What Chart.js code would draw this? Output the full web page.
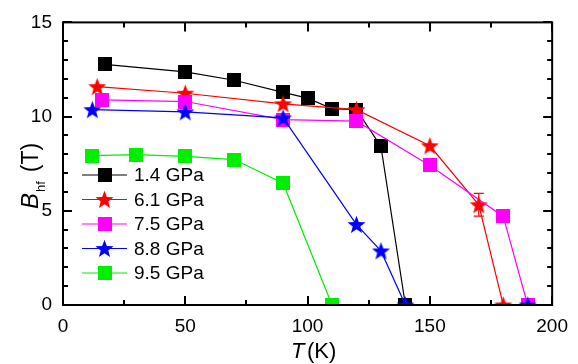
<!DOCTYPE html>
<html><head><meta charset="utf-8">
<script src="https://cdn.jsdelivr.net/npm/chart.js@4/dist/chart.umd.min.js"></script>
<style>html,body{margin:0;padding:0;background:#fff}canvas{display:block}</style>
</head><body>
<canvas id="c" width="578" height="364"></canvas>
<script>
// ---- data ----
const seriesLabels = ['1.4 GPa', '6.1 GPa', '7.5 GPa', '8.8 GPa', '9.5 GPa'];
const tempBlack = [17, 50, 70, 90, 100, 110, 120, 130, 140];
const bBlack    = [12.77, 12.37, 11.93, 11.29, 10.98, 10.42, 10.37, 8.42, 0];
const tempRed   = [14, 50, 90, 120, 150, 170, 180];
const bRed      = [11.59, 11.24, 10.68, 10.37, 8.45, 5.32, 0];
const errRed    = [0, 0, 0, 0, 0, 0.6, 0];
const tempMagenta = [16, 50, 90, 120, 150, 180, 190];
const bMagenta    = [10.89, 10.8, 9.84, 9.76, 7.41, 4.7, 0];
const tempBlue  = [12, 50, 90, 120, 130, 140, 190];
const bBlue     = [10.37, 10.25, 9.93, 4.27, 2.87, 0, 0];
const tempGreen = [12, 30, 50, 70, 90, 110];
const bGreen    = [7.93, 7.98, 7.89, 7.72, 6.46, 0];
const xTicks = [0, 50, 100, 150, 200];
const yTicks = [0, 5, 10, 15];

const FONT = '"Liberation Sans", Arial, Helvetica, sans-serif';

function makeSquare(color, side) {
  const c = document.createElement('canvas');
  c.width = side; c.height = side;
  const g = c.getContext('2d');
  g.fillStyle = color; g.fillRect(0, 0, side, side);
  return c;
}
function makeStar(color, R) {
  const s = Math.ceil(R * 2 + 2);
  const c = document.createElement('canvas');
  c.width = s; c.height = s;
  const g = c.getContext('2d');
  const cx = s / 2, cy = s / 2 + R * 0.08, r = R * 0.42;
  g.beginPath();
  for (let i = 0; i < 10; i++) {
    const rad = i % 2 === 0 ? R : r;
    const a = -Math.PI / 2 + i * Math.PI / 5;
    const px = cx + rad * Math.cos(a), py = cy + rad * Math.sin(a);
    i === 0 ? g.moveTo(px, py) : g.lineTo(px, py);
  }
  g.closePath();
  g.fillStyle = color; g.fill();
  return c;
}

const colors = ['#000000', '#ff0000', '#ff00ff', '#0000ff', '#00ee00'];
const markers = [
  makeSquare('#000000', 14),
  makeStar('#ff0000', 9.5),
  makeSquare('#ff00ff', 14),
  makeStar('#0000ff', 9.5),
  makeSquare('#00ee00', 14)
];
const xs = [tempBlack, tempRed, tempMagenta, tempBlue, tempGreen];
const ys = [bBlack, bRed, bMagenta, bBlue, bGreen];

const datasets = seriesLabels.map((lab, i) => ({
  label: lab,
  data: xs[i].map((t, k) => ({x: t, y: ys[i][k]})),
  showLine: true,
  borderColor: colors[i],
  backgroundColor: colors[i],
  borderWidth: 1.2,
  pointStyle: markers[i],
  pointRadius: 7,
  pointHoverRadius: 7,
  order: 10 - i
}));

const decor = {
  id: 'decor',
  afterDatasetsDraw(chart) {
    const ctx = chart.ctx, x = chart.scales.x, y = chart.scales.y;
    ctx.save();
    ctx.strokeStyle = colors[1];
    ctx.lineWidth = 1.2;
    tempRed.forEach((t, k) => {
      const e = errRed[k];
      if (!e) return;
      const px = x.getPixelForValue(t);
      const y1 = y.getPixelForValue(bRed[k] + e), y2 = y.getPixelForValue(bRed[k] - e);
      ctx.beginPath();
      ctx.moveTo(px, y1); ctx.lineTo(px, y2);
      ctx.moveTo(px - 5, y1); ctx.lineTo(px + 5, y1);
      ctx.moveTo(px - 5, y2); ctx.lineTo(px + 5, y2);
      ctx.stroke();
    });
    ctx.restore();
  },
  afterDraw(chart) {
    const ctx = chart.ctx, a = chart.chartArea, x = chart.scales.x, y = chart.scales.y;
    ctx.save();
    ctx.strokeStyle = '#000';
    ctx.lineWidth = 2;
    ctx.strokeRect(a.left, a.top, a.right - a.left, a.bottom - a.top);
    // inward ticks on all four sides
    ctx.beginPath();
    for (let v = 0; v <= 200; v += 25) {
      const px = Math.round(x.getPixelForValue(v));
      const L = v % 50 === 0 ? 9 : 5;
      ctx.moveTo(px, a.bottom); ctx.lineTo(px, a.bottom - L);
      ctx.moveTo(px, a.top); ctx.lineTo(px, a.top + L);
    }
    for (let v = 0; v <= 15; v += 1) {
      const py = Math.round(y.getPixelForValue(v));
      const L = v % 5 === 0 ? 9 : 5;
      ctx.moveTo(a.left, py); ctx.lineTo(a.left + L, py);
      ctx.moveTo(a.right, py); ctx.lineTo(a.right - L, py);
    }
    ctx.stroke();

    // axis titles
    ctx.fillStyle = '#000';
    ctx.textBaseline = 'alphabetic';
    ctx.textAlign = 'left';
    // x title: T (K)
    ctx.font = 'italic 22px ' + FONT;
    ctx.fillText('T', 291, 358);
    ctx.font = '22px ' + FONT;
    ctx.fillText('(K)', 307, 358);
    // y title: B_hf (T), rotated
    ctx.save();
    ctx.translate(38, 209);
    ctx.rotate(-Math.PI / 2);
    ctx.font = 'italic 24px ' + FONT;
    ctx.fillText('B', 0, 0);
    let w = ctx.measureText('B').width;
    ctx.font = '13px ' + FONT;
    ctx.fillText('hf', w + 1, 7);
    w += 1 + ctx.measureText('hf').width;
    ctx.font = '23px ' + FONT;
    ctx.fillText('(T)', w + 9, 0);
    ctx.restore();

    // legend
    ctx.font = '19px ' + FONT;
    ctx.textBaseline = 'middle';
    seriesLabels.forEach((lab, i) => {
      const cy = 175 + i * 24.5;
      ctx.strokeStyle = colors[i];
      ctx.lineWidth = 1.2;
      ctx.beginPath();
      ctx.moveTo(82, cy); ctx.lineTo(127, cy);
      ctx.stroke();
      const m = markers[i];
      ctx.drawImage(m, Math.round(104.5 - m.width / 2), Math.round(cy - m.height / 2));
      ctx.fillStyle = '#000';
      ctx.fillText(lab, 134, cy + 1);
    });
    ctx.restore();
  }
};

new Chart(document.getElementById('c'), {
  type: 'scatter',
  data: {datasets},
  options: {
    responsive: false,
    animation: false,
    events: [],
    layout: {padding: {top: 18, right: 23, left: 0, bottom: 0}},
    plugins: {legend: {display: false}, tooltip: {enabled: false}, title: {display: false}},
    scales: {
      x: {
        type: 'linear', min: 0, max: 200,
        afterBuildTicks: s => { s.ticks = xTicks.map(v => ({value: v})); },
        ticks: {color: '#000', font: {family: FONT, size: 19}, padding: 10, maxRotation: 0},
        grid: {display: false, drawTicks: false, tickLength: 0},
        border: {display: false},
        afterFit: s => { s.height = 59; }
      },
      y: {
        type: 'linear', min: 0, max: 15,
        afterBuildTicks: s => { s.ticks = yTicks.map(v => ({value: v})); },
        ticks: {color: '#000', font: {family: FONT, size: 19}, padding: 11},
        grid: {display: false, drawTicks: false, tickLength: 0},
        border: {display: false},
        afterFit: s => { s.width = 63; }
      }
    }
  },
  plugins: [decor]
});
</script>
</body></html>
